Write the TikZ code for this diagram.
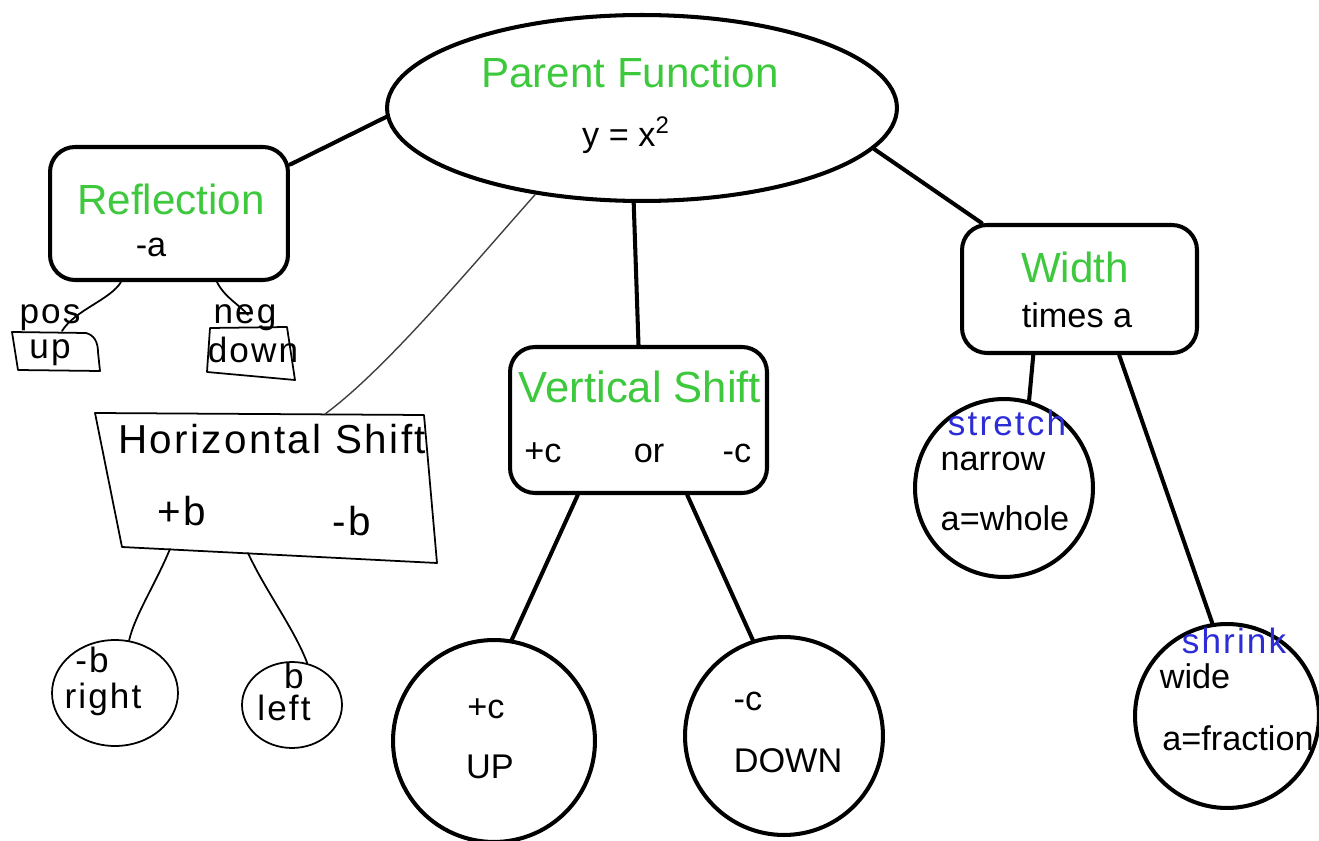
\documentclass[tikz,border=0pt]{standalone}
\usepackage{fontspec}
\setmainfont{Liberation Sans}
\newfontfamily\handfont[LetterSpace=6]{Liberation Sans}
\usetikzlibrary{shapes.geometric}
\definecolor{titlegreen}{RGB}{61,200,61}
\definecolor{inkblue}{RGB}{45,45,215}

\tikzset{
  heavy/.style={line width=2.3pt, line cap=round},
  inkline/.style={line width=1pt, line cap=round, line join=round},
  bubble/.style={draw, line width=2.3pt, rounded corners=0.5cm, inner sep=0},
  disc/.style={draw, circle, line width=2.3pt, inner sep=0},
  oval/.style={draw, ellipse, inner sep=0},
  titletext/.style={text=titlegreen, font=\fontsize{24}{28}\selectfont, inner sep=0, anchor=base},
  bodytext/.style={font=\fontsize{19.5}{23}\selectfont, inner sep=0, anchor=base},
  handtext/.style={font=\handfont\fontsize{20}{24}\selectfont, inner sep=0, anchor=base},
  bigtext/.style={font=\handfont\fontsize{23}{27}\selectfont, inner sep=0, anchor=base},
}

\begin{document}
\begin{tikzpicture}[x=0.02cm, y=-0.02cm]
\useasboundingbox (0,0) rectangle (1319,841);

% ---------- main shapes ----------
\node[oval, line width=2.3pt, minimum width=10.2cm, minimum height=3.72cm] (parent) at (642,108) {};
\node[bubble, minimum width=4.76cm, minimum height=2.66cm] (refl) at (169,213.5) {};
\node[bubble, minimum width=5.14cm, minimum height=2.92cm] (vs) at (638.5,420) {};
\node[bubble, minimum width=4.70cm, minimum height=2.56cm] (width) at (1079.5,289) {};
\node[disc, minimum size=3.56cm] (narrow) at (1004,488) {};
\node[disc, minimum size=3.68cm] (wide) at (1227,716) {};
\node[disc, minimum size=4.04cm] (up) at (494,741) {};
\node[disc, minimum size=3.96cm] (down) at (784,736) {};

% ---------- hand-drawn shapes ----------
\coordinate (hsA) at (95,413);
\coordinate (hsB) at (424,415);
\coordinate (hsC) at (437,563);
\coordinate (hsD) at (122,547);
\draw[inkline] (hsA) -- (hsB) -- (hsC) -- (hsD) -- cycle;
\coordinate (hsTop) at (325,414);
\coordinate (hsL) at (170,549);
\coordinate (hsR) at (248,553);

\node[oval, inkline, minimum width=2.52cm, minimum height=2.12cm] (rightc) at (115,693) {};
\node[oval, inkline, minimum width=2.0cm, minimum height=1.72cm] (leftc) at (292,705) {};

% small boxes under the reflection box
\draw[inkline] (12,332) -- (86,333) .. controls (94,335) and (98,342) .. (98,352) -- (100,371) -- (18,370) -- cycle;
\draw[inkline] (210,328) -- (287,327) -- (295,380) -- (207,372) -- cycle;
\coordinate (posEnd) at (62,331);
\coordinate (negEnd) at (248,315);

% ---------- connectors ----------
\draw[heavy] (parent.182.7) -- (refl.22);
\draw[heavy] (parent.265.7) -- (vs.north);
\draw[heavy] (parent.-10.8) -- (width.146);
\draw[heavy] (width.235.2) -- (narrow.74.4);
\draw[heavy] (width.-59.6) -- (wide.99.3);
\draw[heavy] (vs.231.3) -- (up.80.8);
\draw[heavy] (vs.-57.5) -- (down.108.4);

\draw[inkline, black!75, line width=0.8pt] (parent.219.8) .. controls (470,268) and (385,370) .. (hsTop);
\draw[inkline] (hsL) .. controls (155,585) and (135,615) .. (rightc.75);
\draw[inkline] (hsR) .. controls (265,590) and (295,630) .. (leftc.70);
\draw[inkline] (refl.235.3) .. controls (110,300) and (75,310) .. (posEnd);
\draw[inkline] (refl.305.8) .. controls (225,298) and (240,305) .. (negEnd);

% ---------- typed text ----------
\node[titletext] (tParent) at (630,88) {Parent Function};
\node[bodytext] (tEq) at (626,147) {y = x\textsuperscript{2}};
\node[titletext] (tRefl) at (171,215) {Reflection};
\node[bodytext] (tNegA) at (151,257) {-a};
\node[titletext, font=\fontsize{24.8}{29}\selectfont] (tVs) at (640,402) {Vertical Shift};
\node[bodytext] (tPlusC) at (543,462) {+c};
\node[bodytext] (tOr) at (649,462) {or};
\node[bodytext] (tMinusC) at (737,462) {-c};
\node[titletext] (tWidth) at (1075,283) {Width};
\node[bodytext] (tTimes) at (1077,328) {times a};
\node[bodytext] (tNarrow) at (993,470) {narrow};
\node[bodytext] (tWhole) at (1005,530) {a=whole};
\node[bodytext] (tWide) at (1195,688) {wide};
\node[bodytext] (tFrac) at (1238,750) {a=fraction};
\node[bodytext] (tUpC) at (486,718) {+c};
\node[bodytext] (tUp) at (490,778) {UP};
\node[bodytext] (tDownC) at (748,710) {-c};
\node[bodytext] (tDown) at (788,772) {DOWN};

% ---------- handwritten text ----------
\node[handtext, text=inkblue] (tStretch) at (1007,435) {stretch};
\node[handtext, text=inkblue] (tShrink) at (1234,653) {shrink};
\node[bigtext] (tHs) at (272,453) {Horizontal Shift};
\node[bigtext] (tPlusB) at (182,525) {+b};
\node[bigtext] (tMinusB) at (352,535) {-b};
\node[handtext] (tRmb) at (92,672) {-b};
\node[handtext] (tRight) at (103,708) {right};
\node[handtext] (tLb) at (294,688) {b};
\node[handtext] (tLeft) at (284,720) {left};
\node[handtext] (tPos) at (50,323) {pos};
\node[handtext] (tUpS) at (50,358) {up};
\node[handtext] (tNeg) at (245,323) {neg};
\node[handtext] (tDownS) at (253,362) {down};
\end{tikzpicture}
\end{document}
